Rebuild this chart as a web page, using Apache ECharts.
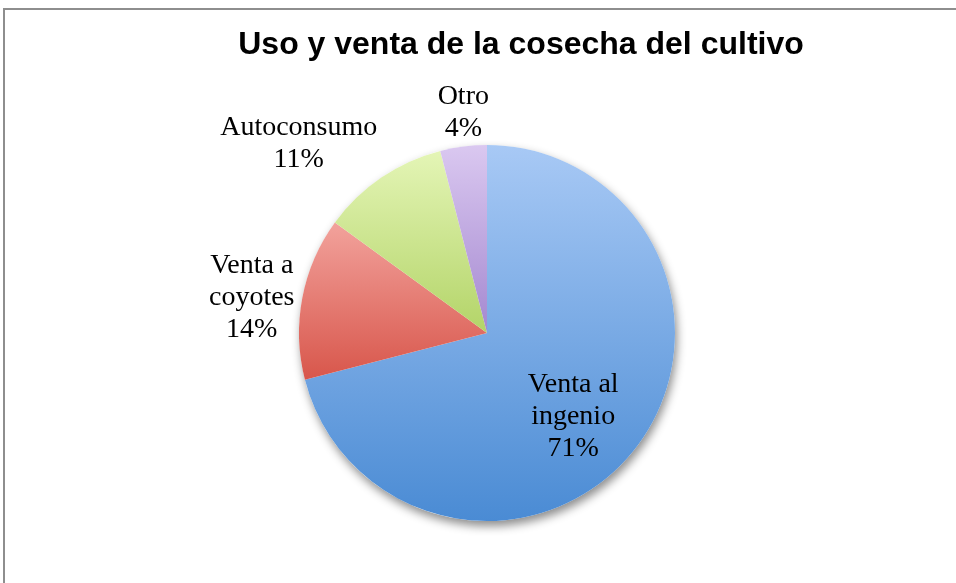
<!DOCTYPE html>
<html>
<head>
<meta charset="utf-8">
<script src="https://cdn.jsdelivr.net/npm/echarts@6/dist/echarts.min.js"></script>
<style>
html, body { margin: 0; padding: 0; background: #fff; }
.echarts { position: absolute; left: 0; top: 0; width: 956px; height: 583px; }
.frame {
  position: absolute; left: 3px; top: 8px; right: 0; bottom: 0;
  border-left: 2px solid #8e8e8e; border-top: 2px solid #8e8e8e;
  pointer-events: none;
}
</style>
</head>
<body>
<div class="echarts" id="chart"></div>
<div class="frame"></div>
<script>
const categories = ['Venta al ingenio', 'Venta a coyotes', 'Autoconsumo', 'Otro'];
const labelNames = ['Venta al\ningenio', 'Venta a\ncoyotes', 'Autoconsumo', 'Otro'];
const percents = [71, 14, 11, 4];

// light (top) -> dark (bottom) per slice
const sliceColors = [
  ['#a8c9f5', '#4a8bd4'],
  ['#f2a29c', '#d8564b'],
  ['#e4f5b6', '#b3d468'],
  ['#dac8f0', '#a488d0']
];

const cx = 487, cy = 333, R = 188;
const total = percents.reduce((a, b) => a + b, 0);

const grad = (c) => new echarts.graphic.LinearGradient(0, 0, 0, 1, [
  { offset: 0, color: c[0] },
  { offset: 1, color: c[1] }
]);

const myChart = echarts.init(document.getElementById('chart'));

const option = {
  backgroundColor: '#fff',
  animation: false,
  title: {
    text: 'Uso y venta de la cosecha del cultivo',
    left: 516,
    textAlign: 'center',
    top: 24,
    textStyle: {
      fontFamily: 'Liberation Sans',
      fontWeight: 'bold',
      fontSize: 32,
      color: '#000'
    }
  },
  series: [
    {
      // shadow disc behind the pie
      type: 'pie',
      silent: true,
      center: [cx, cy],
      radius: R,
      z: 1,
      label: { show: false },
      labelLine: { show: false },
      itemStyle: {
        color: '#fff',
        shadowBlur: 10,
        shadowOffsetX: 2,
        shadowOffsetY: 5,
        shadowColor: 'rgba(0, 0, 0, 0.45)'
      },
      data: [{ value: 1 }]
    },
    {
      type: 'pie',
      center: [cx, cy],
      radius: R,
      startAngle: 90,
      clockwise: true,
      z: 2,
      data: categories.map((name, i) => ({
        name: name,
        value: percents[i],
        itemStyle: { color: grad(sliceColors[i]) }
      })),
      label: {
        show: true,
        position: 'outside',
        fontFamily: 'Liberation Serif',
        fontSize: 28,
        lineHeight: 32,
        color: '#000',
        formatter: p => `${labelNames[p.dataIndex]}\n${p.value}%`
      },
      labelLine: { show: false },
      labelLayout: params => {
        const i = params.dataIndex;
        let before = 0;
        for (let k = 0; k < i; k++) before += percents[k];
        const mid = (before + percents[i] / 2) / total * Math.PI * 2;
        const dx = Math.sin(mid), dy = -Math.cos(mid);
        if (i === 0) {
          return { x: cx + dx * R * 0.58, y: cy + dy * R * 0.58 + 17, align: 'center', verticalAlign: 'middle' };
        }
        const w = params.labelRect.width, h = params.labelRect.height;
        const f = t => Math.min(1, Math.max(0, (Math.abs(t) - 0.2) / 0.35));
        return {
          x: cx + dx * (R + 9) + Math.sign(dx) * f(dx) * w / 2 + 1,
          y: cy + dy * (R + 2) + Math.sign(dy) * f(dy) * h / 2,
          align: 'center',
          verticalAlign: 'middle'
        };
      },
      emphasis: { disabled: true }
    }
  ]
};

myChart.setOption(option);
</script>
</body>
</html>
